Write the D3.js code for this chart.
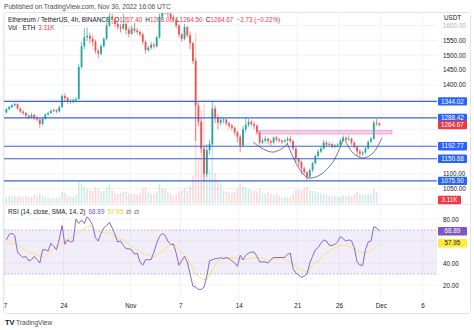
<!DOCTYPE html>
<html><head><meta charset="utf-8">
<script src="https://cdn.jsdelivr.net/npm/d3@7"></script>
<style>
body{margin:0;background:#fff;}
svg{display:block;font-family:"Liberation Sans",Arial,sans-serif;}
</style>
</head><body>
<svg id="c" width="474" height="330"></svg>
<script>
// ---------- DATA ----------
const startDate = "2022-10-17T00:00:00Z";
const candleHours = 8;
const firstOpen = 1306;
const closes = [
1318,1325,1331, 1335,1320,1310, 1305,1296,1290, 1298,1288,1283, 1268,1285,1300,
1305,1312,1315, 1310,1325,1362, 1355,1342,1345, 1348,1352,1460, 1530,1560,1565,
1555,1545,1515, 1505,1530,1555, 1600,1630,1620, 1605,1595,1590, 1605,1585,1572,
1590,1583,1578, 1570,1545,1517, 1525,1535,1530, 1560,1630,1645, 1655,1640,1628,
1620,1600,1570, 1555,1595,1567, 1540,1480,1330, 1275,1185,1100, 1180,1200,1320,
1290,1272,1282, 1283,1270,1262, 1255,1240,1225, 1195,1250,1265, 1275,1268,1262,
1240,1205,1212, 1218,1210,1205, 1222,1216,1212, 1208,1212,1218, 1210,1185,1150,
1140,1118,1105, 1090,1112,1135, 1160,1175,1185, 1205,1198,1200, 1192,1195,1198,
1212,1222,1215, 1218,1205,1190, 1175,1168,1172, 1185,1208,1218, 1272,1270,1264.67];
const highs = [
1322,1330,1336, 1340,1338,1324, 1314,1308,1300, 1306,1302,1294, 1286,1290,1304,
1310,1316,1320, 1318,1330,1370, 1372,1360,1352, 1354,1358,1470, 1545,1590,1593,
1575,1566,1552, 1522,1538,1560, 1610,1665,1640, 1628,1612,1605, 1640,1612,1595,
1600,1608,1592, 1585,1576,1550, 1532,1545,1542, 1565,1640,1655, 1680,1662,1648,
1635,1625,1605, 1575,1605,1598, 1580,1545,1490, 1340,1285,1195, 1200,1215,1345,
1330,1300,1292, 1290,1286,1275, 1268,1260,1245, 1232,1262,1290, 1285,1282,1276,
1266,1244,1220, 1228,1222,1215, 1226,1228,1220, 1216,1218,1225, 1228,1214,1190,
1155,1145,1124, 1110,1118,1140, 1165,1182,1190, 1215,1212,1208, 1204,1200,1204,
1218,1229,1226, 1230,1222,1210, 1195,1184,1178, 1190,1212,1225, 1280,1285,1272];
const lows = [
1304,1314,1320, 1326,1316,1305, 1298,1288,1284, 1286,1280,1276, 1255,1262,1282,
1296,1302,1308, 1304,1306,1322, 1345,1336,1335, 1338,1342,1350, 1455,1520,1548,
1540,1530,1505, 1490,1500,1525, 1550,1595,1605, 1595,1585,1576, 1585,1570,1560,
1568,1575,1570, 1562,1535,1505, 1510,1518,1522, 1525,1555,1620, 1636,1630,1618,
1610,1590,1560, 1545,1550,1560, 1520,1470,1211, 1260,1170,1073, 1090,1165,1195,
1270,1250,1262, 1270,1262,1252, 1245,1230,1205, 1172,1190,1240, 1258,1260,1250,
1232,1198,1200, 1205,1200,1195, 1202,1208,1205, 1200,1204,1208, 1204,1178,1140,
1125,1098,1098, 1076,1085,1105, 1132,1155,1170, 1182,1192,1194, 1185,1186,1190,
1195,1208,1210, 1210,1198,1185, 1160,1155,1160, 1168,1182,1203, 1215,1262,1260];
const volumes = [
90,110,100, 120,100,110, 90,110,95, 100,130,105, 150,120,110,
80,70,75, 85,95,170, 160,120,110, 100,120,330, 300,260,220,
200,190,240, 210,180,190, 230,280,200, 150,140,160, 180,170,160,
140,150,130, 160,220,240, 170,150,140, 180,300,230, 220,170,150,
120,140,180, 200,230,190, 260,420,2550, 700,1400,1500, 800,500,1000,
450,350,300, 200,180,170, 150,180,220, 300,260,240, 220,200,190,
180,220,160, 150,170,140, 130,150,120, 90,100,95, 110,150,200,
220,200,240, 250,200,190, 170,160,150, 140,130,120, 110,120,100,
100,120,110, 120,110,140, 170,150,140, 130,150,140, 220,170,3.11];
const rsi = [
61,66,67,65,50,47,45,46,42,43, 46,43,40,52,52,51,58,55,52,62,
74,57,61,59,60,80,76,79,76,82, 79,74,63,60,67,72,74,77,72,66,
59,60,56,53,53,52,48,49,41,38, 43,43,43,50,58,64,67,65,60,57,
57,49,38,42,46,41,30,19,18,16, 16,18,28,42,43,44,44,45,44,45,
44,42,40,37,47,43,47,49,50,50, 46,41,41,41,40,43,45,45,45,45,
45,48,49,35,31,29,27,28,30,40, 46,52,54,58,61,60,56,56,57,59,
64,62,60,61,60,54,41,38,38,52, 59,60,73,72,68.89];
const rsiSma = [
57,57.5,58,57,56,55,53,52,50,49, 48.5,47,46,45,46,49,51,53,55,56,
58,60,61,62,64,66,68,70,71,73, 74,72,70,69,68,67.5,67,67,66,64,
63,62,61,59,57,55,54,52,51,49, 48,47,46,45,47,49,51,53,55,56,
58,55,52,50,47,45,40,35,30,28, 26,25,25,29,34,38,42,43,44,44.5,
45,45,45,44,44,43,43.5,44,44.5,45, 45,44.5,44,43.5,43,43,43.5,44,44.5,45,
44,42.5,41,39,37,35,34,33,32,35, 38,40,42,45,47,49,51,53,54,55,
55.5,56,56,55,54,53,52,50,49,49.5, 50,51,52.5,55,57.95];
const levels = [1344.02, 1288.42, 1192.77, 1150.68, 1075.90];
const priceTicks = [1050,1100,1150,1200,1250,1300,1350,1400,1450,1500,1550,1600];
const rsiTicks = [20,40,60,80];
const timeTickDates = ["2022-10-17","2022-10-24","2022-11-01","2022-11-07","2022-11-14","2022-11-21","2022-11-26","2022-12-01","2022-12-06"];
const timeTickLabels = ["7","24","Nov","7","14","21","26","Dec","6"];
// drawings (day offset from start, price)
const zoneDays = [30.3, 46.35];
const zonePrices = [1246, 1234];
const arcs = [
  [[29.70,1207],[30.90,1184],[32.10,1173],[33.29,1187],[33.89,1204]],
  [[33.77,1204],[34.49,1157],[35.33,1113],[36.29,1086],[37.72,1096],[39.28,1140],[40.48,1214]],
  [[40.72,1214],[41.68,1170],[42.87,1153],[44.07,1170],[45.15,1221]]
];
const lastVolLabel = "3.11K";
const rsiLast = 68.89, smaLast = 57.95;

// ---------- SETUP ----------
const svg = d3.select("#c");
const HOUR = 3600000, DAY = 86400000;
const t0 = new Date(startDate);
const candles = closes.map((c,i)=>({
  t: new Date(t0.getTime()+i*candleHours*HOUR),
  o: i ? closes[i-1] : firstOpen, h: highs[i], l: lows[i], c, v: volumes[i]
}));
const L = 4, R = 437, mainTop = 13, mainBot = 203.5, rsiTop = 205, rsiBot = 300;

const x = d3.scaleUtc().domain([t0, new Date("2022-12-08T00:00:00Z")]).range([5, 439.2]);
const y = d3.scaleLinear().domain([1050,1550]).range([188.6,40.3]);
const yv = d3.scaleLinear().domain([0, d3.max(volumes)]).range([203.5, 33]);
const yr = d3.scaleLinear().domain([20,80]).range([285,219]);
const step = x(new Date(t0.getTime()+candleHours*HOUR)) - x(t0);
const cx = d => x(d.t) + step/2;
const dx = d => x(new Date(t0.getTime()+d*DAY));

const UP = "#26a69a", DN = "#ef5350", TXT = "#131722";
const defs = svg.append("defs");
defs.append("clipPath").attr("id","cm").append("rect").attr("x",L).attr("y",mainTop).attr("width",R-L).attr("height",mainBot-mainTop);
defs.append("clipPath").attr("id","cr").append("rect").attr("x",L).attr("y",rsiTop).attr("width",R-L).attr("height",rsiBot-rsiTop);

// frame
svg.append("rect").attr("x",3.5).attr("y",12.5).attr("width",467).attr("height",301)
  .attr("rx",3).attr("fill","none").attr("stroke","#e3e5ea");
// title
svg.append("text").attr("x",4).attr("y",9).attr("font-size",6.6).attr("fill","#4a4a4a")
  .text("Published on TradingView.com, Nov 30, 2022 16:06 UTC");

// grid
const tickDates = timeTickDates.map(s=>new Date(s+"T00:00:00Z"));
const grid = svg.append("g").attr("stroke","#f1f3f8").attr("stroke-width",1);
tickDates.forEach(d=>grid.append("line").attr("x1",x(d)).attr("x2",x(d)).attr("y1",mainTop).attr("y2",rsiBot));
priceTicks.forEach(p=>{ if (y(p)>mainTop) grid.append("line").attr("x1",L).attr("x2",R).attr("y1",y(p)).attr("y2",y(p)); });
rsiTicks.forEach(v=>grid.append("line").attr("x1",L).attr("x2",R).attr("y1",yr(v)).attr("y2",yr(v)));
svg.append("line").attr("x1",3.5).attr("x2",470.5).attr("y1",204.3).attr("y2",204.3).attr("stroke","#e6e8ee");

// main legend (drawn under candles)
const lg = svg.append("text").attr("x",8).attr("y",21.5).attr("font-size",6.4).attr("fill",TXT);
lg.append("tspan").text("Ethereum / TetherUS, 4h, BINANCE");
[["O","1267.40"],["H","1268.00"],["L","1264.50"],["C","1264.67"]].forEach(([k,v],i)=>{
  lg.append("tspan").attr("dx", i===0?4:3).text(k);
  lg.append("tspan").attr("fill","#f23645").text(v);
});
lg.append("tspan").attr("dx",3).attr("fill","#f23645").text("\u22122.73 (\u22120.22%)");
const vl = svg.append("text").attr("x",8).attr("y",29.5).attr("font-size",6.4).attr("fill",TXT);
vl.append("tspan").text("Vol \u00b7 ETH");
vl.append("tspan").attr("dx",3).attr("fill","#f23645").text(lastVolLabel);

// volume + candles
const main = svg.append("g").attr("clip-path","url(#cm)");
main.append("g").selectAll("rect").data(candles).join("rect")
  .attr("x",d=>cx(d)-0.8).attr("width",1.6).attr("y",d=>yv(d.v)).attr("height",d=>yv(0)-yv(d.v))
  .attr("fill",d=>d.c>=d.o?UP:DN).attr("opacity",0.22);
const cg = main.append("g");
cg.selectAll("line").data(candles).join("line")
  .attr("x1",cx).attr("x2",cx).attr("y1",d=>y(d.h)).attr("y2",d=>y(d.l))
  .attr("stroke",d=>d.c>=d.o?UP:DN).attr("stroke-width",0.7);
cg.selectAll("rect").data(candles).join("rect")
  .attr("x",d=>cx(d)-0.9).attr("width",1.8)
  .attr("y",d=>y(Math.max(d.o,d.c))).attr("height",d=>Math.max(0.8,Math.abs(y(d.o)-y(d.c))))
  .attr("fill",d=>d.c>=d.o?UP:DN);

// drawings
main.append("rect").attr("x",dx(zoneDays[0])).attr("width",dx(zoneDays[1])-dx(zoneDays[0]))
  .attr("y",y(zonePrices[0])).attr("height",y(zonePrices[1])-y(zonePrices[0]))
  .attr("fill","rgba(224,120,200,0.35)").attr("stroke","#e08ccf").attr("stroke-width",0.6);
main.append("g").selectAll("line").data(levels).join("line")
  .attr("x1",L).attr("x2",R).attr("y1",d=>y(d)).attr("y2",d=>y(d))
  .attr("stroke","#3b63d6").attr("stroke-width",1.2);
const arcLine = d3.line().x(d=>dx(d[0])).y(d=>y(d[1])).curve(d3.curveCatmullRom);
main.append("g").selectAll("path").data(arcs).join("path")
  .attr("d",arcLine).attr("fill","none").attr("stroke","#34407a").attr("stroke-width",0.7);

// price axis (labels hidden where a value tag covers them)
const lastClose = closes[closes.length-1];
const priceTagYs = levels.concat([lastClose]).map(y);
const visPriceTicks = priceTicks.filter(p => priceTagYs.every(t => Math.abs(t - y(p)) > 6.5));
const pa = svg.append("g").attr("transform","translate(443,0)")
  .call(d3.axisRight(y).tickValues(visPriceTicks).tickSize(0).tickPadding(0).tickFormat(d3.format(".2f")));
pa.select(".domain").remove();
pa.selectAll("text").attr("font-size",6.3).attr("fill",TXT).attr("font-family","Liberation Sans, Arial, sans-serif")
  .attr("opacity",d=>d===1600?0.35:1);
svg.append("text").attr("x",444).attr("y",20).attr("font-size",6.3).attr("fill",TXT).text("USDT");

function tag(yy, txt, bg, fg, w){
  svg.append("rect").attr("x",438).attr("y",yy-4.2).attr("width",w||29).attr("height",8.4).attr("rx",1).attr("fill",bg);
  svg.append("text").attr("x",438+(w||29)/2).attr("y",yy+2.2).attr("text-anchor","middle")
    .attr("font-size",6.3).attr("fill",fg).text(txt);
}
levels.forEach(l=>tag(y(l), d3.format(".2f")(l), "#2962ff", "#fff"));
tag(y(lastClose), d3.format(".2f")(lastClose), "#f23645", "#fff");
tag(200, lastVolLabel, "#f23645", "#fff", 23);

// RSI pane
const rp = svg.append("g").attr("clip-path","url(#cr)");
rp.append("rect").attr("x",L).attr("width",R-L).attr("y",yr(70)).attr("height",yr(30)-yr(70))
  .attr("fill","rgba(126,87,194,0.1)");
rp.append("g").selectAll("line").data([70,30]).join("line")
  .attr("x1",L).attr("x2",R).attr("y1",d=>yr(d)).attr("y2",d=>yr(d))
  .attr("stroke","#a09cb8").attr("stroke-width",0.8).attr("stroke-dasharray","1.5,2");
rp.append("path").datum(rsiSma).attr("fill","none").attr("stroke","#f7e27a").attr("stroke-width",1)
  .attr("d",d3.line().x((d,i)=>cx(candles[i])).y(d=>yr(d)));
rp.append("path").datum(rsi).attr("fill","none").attr("stroke","#7e57c2").attr("stroke-width",0.9)
  .attr("d",d3.line().x((d,i)=>cx(candles[i])).y(d=>yr(d)));
const rl = svg.append("text").attr("x",8).attr("y",214).attr("font-size",6.4).attr("fill",TXT);
rl.append("tspan").text("RSI (14, close, SMA, 14, 2)");
rl.append("tspan").attr("dx",3).attr("fill","#7e57c2").text(d3.format(".2f")(rsiLast));
rl.append("tspan").attr("dx",3).attr("fill","#e8cf2c").text(d3.format(".2f")(smaLast));
rl.append("tspan").attr("dx",3).text("\u2205");
rl.append("tspan").attr("dx",3).text("\u2205");
const rsiTagYs = [yr(rsiLast), yr(smaLast)];
const visRsiTicks = rsiTicks.filter(v => rsiTagYs.every(t => Math.abs(t - yr(v)) > 6.5));
const ra = svg.append("g").attr("transform","translate(443,0)")
  .call(d3.axisRight(yr).tickValues(visRsiTicks).tickSize(0).tickPadding(0).tickFormat(d3.format(".2f")));
ra.select(".domain").remove();
ra.selectAll("text").attr("font-size",6.3).attr("fill",TXT).attr("font-family","Liberation Sans, Arial, sans-serif");
tag(yr(rsiLast), d3.format(".2f")(rsiLast), "#7e57c2", "#fff");
tag(yr(smaLast), d3.format(".2f")(smaLast), "#ffeb3b", TXT);

// time axis
const ta = svg.append("g").attr("transform","translate(0,302)")
  .call(d3.axisBottom(x).tickValues(tickDates).tickSize(0).tickPadding(2).tickFormat((d,i)=>timeTickLabels[i]));
ta.select(".domain").remove();
ta.selectAll("text").attr("font-size",6.3).attr("fill",TXT).attr("font-family","Liberation Sans, Arial, sans-serif");

// footer logo
svg.append("text").attr("x",5).attr("y",324.5).attr("font-size",7.5).attr("font-weight","bold").attr("fill","#131722").text("TV");
svg.append("text").attr("x",16).attr("y",324.5).attr("font-size",6.6).attr("fill","#4a4a4a").text("TradingView");
</script>
</body></html>
